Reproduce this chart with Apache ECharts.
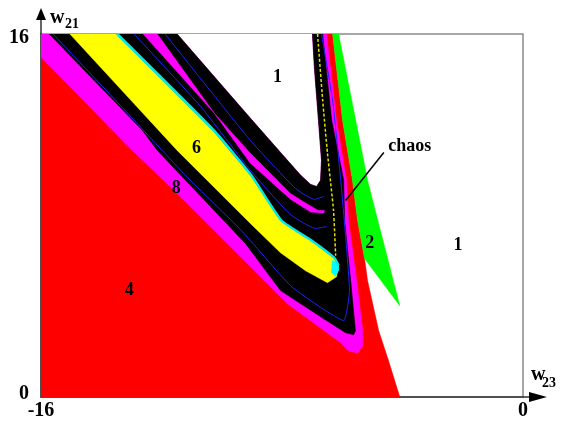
<!DOCTYPE html>
<html>
<head>
<meta charset="utf-8">
<script src="https://cdn.jsdelivr.net/npm/echarts@6/dist/echarts.min.js"></script>
<style>
  html, body { margin: 0; padding: 0; background: #fff; }
  #chart { width: 561px; height: 423px; }
</style>
</head>
<body>
<div id="chart"></div>
<script>
// Parameter plane (w23, w21): regions of periodic behaviour of the map.
const xTicks = [-16, 0];
const yTicks = [0, 16];

// Period-4 region (red), including the thin strip beside the chaotic band
const region4 = [
  [-16, 0], [-16, 16], [-6.32, 16], [-5.99, 12.20], [-5.66, 9.55], [-5.49, 7.78],
  [-5.26, 6.10], [-5.16, 5.13], [-4.79, 2.92], [-4.46, 1.59], [-4.09, 0]
];
// Period-2 wedge (green)
const region2 = [
  [-6.32, 16], [-6.12, 16], [-5.16, 9.55], [-4.82, 7.78], [-4.09, 4.02],
  [-5.26, 6.10], [-5.49, 7.78], [-5.66, 9.55], [-5.99, 12.20]
];
// Fixed-point pocket (white) enclosed by the chaotic band
const region1 = [
  [-11.48, 16], [-9.05, 12.29], [-8.05, 10.78], [-7.38, 9.77], [-7.05, 9.37],
  [-6.85, 9.28], [-6.72, 9.55], [-6.69, 10.43], [-6.79, 12.20], [-6.92, 14.41], [-6.99, 16]
];
// Period-8 band (magenta) wrapping the chaotic zone
const region8 = [
  [-16, 16], [-11.48, 16], [-9.05, 12.29], [-8.05, 10.78], [-7.38, 9.77], [-7.05, 9.37],
  [-6.85, 9.28], [-6.72, 9.55], [-6.69, 10.43], [-6.79, 12.20], [-6.92, 14.41], [-6.99, 16],
  [-6.52, 16], [-6.19, 12.20], [-5.86, 9.55], [-5.79, 7.78], [-5.52, 5.13], [-5.32, 2.92],
  [-5.32, 2.25], [-5.49, 1.94], [-5.79, 2.03], [-6.05, 2.39], [-7.82, 4.11],
  [-11.48, 8.97], [-12.97, 10.87], [-16, 14.98]
];
// Chaotic zone (black)
const chaos = [
  [-15.73, 16], [-11.48, 16], [-9.05, 12.29], [-8.05, 10.78], [-7.38, 9.77], [-7.05, 9.37],
  [-6.85, 9.28], [-6.72, 9.55], [-6.69, 10.43], [-6.79, 12.20], [-6.92, 14.41], [-6.99, 16],
  [-6.65, 16], [-6.35, 12.20], [-5.95, 9.55], [-5.92, 7.78], [-5.72, 5.13], [-5.56, 2.92],
  [-5.62, 2.74], [-5.89, 2.83], [-6.62, 3.45], [-8.05, 4.69], [-9.21, 6.76],
  [-12.14, 10.87], [-12.64, 11.76]
];
// Period-6 finger (yellow)
const region6 = [
  [-15.04, 16], [-13.51, 16], [-10.31, 11.76], [-9.05, 9.77], [-8.05, 7.78], [-7.05, 6.90],
  [-6.29, 6.14], [-6.12, 5.79], [-6.19, 5.30], [-6.49, 5.04], [-7.22, 5.57], [-8.05, 6.36],
  [-9.05, 7.65], [-11.48, 10.87]
];
// Inner period-8 band (magenta) below the white pocket, thinning into a hook
const region8inner = [
  [-12.61, 16], [-9.05, 10.74], [-7.72, 8.97], [-7.22, 8.55], [-6.79, 8.22], [-6.59, 8.22],
  [-6.62, 8.10], [-7.05, 8.15], [-7.72, 8.72], [-9.05, 10.30], [-12.14, 16]
];
// Cyan fringe on the upper side of the period-6 finger, and its tip
const edge6 = [
  [-13.47, 16], [-10.27, 11.76], [-9.02, 9.77], [-8.02, 7.78], [-7.02, 6.90], [-6.27, 6.14], [-6.12, 5.79]
];
const tip6 = [[-6.33, 6.02], [-6.13, 5.88], [-6.11, 5.60], [-6.24, 5.32], [-6.36, 5.50]];
// Thin blue curves inside the chaotic zone
const blueOuter = [
  [-15.60, 16], [-13.37, 12.86], [-11.14, 9.68], [-9.38, 7.38], [-7.72, 4.91], [-6.55, 3.80],
  [-5.95, 3.36], [-5.76, 4.69], [-5.85, 6.45], [-6.05, 9.55], [-6.32, 13.08], [-6.69, 16]
];
const blueMid = [
  [-12.91, 16], [-10.71, 12.82], [-9.05, 9.99], [-7.72, 8.04], [-6.89, 7.43], [-6.52, 7.51]
];
const blueInner = [
  [-11.88, 16], [-9.05, 11.31], [-7.55, 9.19], [-6.92, 8.71], [-6.62, 8.84]
];
// Dashed period-6 trace running up the chaotic column
const yellowTrace = [[-6.82, 16], [-6.65, 13.08], [-6.49, 10.74], [-6.29, 8.22], [-6.22, 6.23]];
// Pointer from the "chaos" caption to the column
const pointer = [[-4.62, 10.78], [-5.89, 8.66]];

// Region captions
const captionText = ['1', '6', '8', '4', '2', '1', 'chaos'];
const captionX = [-8.15, -10.84, -11.51, -13.07, -5.09, -2.16, -3.76];
const captionY = [14.10, 10.96, 9.19, 4.69, 6.76, 6.67, 11.05];

const SERIF = '"Liberation Serif", "Times New Roman", serif';

function polygonSeries(name, pts, color) {
  return {
    name, type: 'custom', clip: true, silent: true,
    data: [0],
    renderItem: (params, api) => ({
      type: 'polygon',
      shape: { points: pts.map(p => api.coord(p)) },
      style: { fill: color, stroke: color, lineWidth: 0.5 }
    })
  };
}
function lineSeries(name, pts, color, width, type) {
  return {
    name, type: 'line', data: pts, showSymbol: false, smooth: 0.15, silent: true,
    clip: true,
    lineStyle: { color, width, type: type || 'solid' }
  };
}

const chart = echarts.init(document.getElementById('chart'), null, { renderer: 'canvas' });
const gridLeft = 41, gridTop = 34, gridRight = 38, gridBottom = 26;
const W = 561, H = 423;
const x0 = gridLeft, yB = H - gridBottom, xR = W - gridRight;

chart.setOption({
  animation: false,
  backgroundColor: '#fff',
  grid: {
    left: gridLeft, top: gridTop, right: gridRight, bottom: gridBottom,
    outerBoundsMode: 'none', containLabel: false,
    show: true, borderColor: '#8a8a8a', borderWidth: 1.5, backgroundColor: 'transparent'
  },
  xAxis: {
    type: 'value', min: xTicks[0], max: xTicks[1], interval: 16,
    axisLine: { show: true, onZero: false, lineStyle: { color: '#333', width: 1.5 } },
    axisTick: { show: false }, splitLine: { show: false },
    axisLabel: { color: '#000', fontFamily: SERIF, fontWeight: 'bold', fontSize: 20, margin: 4 }
  },
  yAxis: {
    type: 'value', min: yTicks[0], max: yTicks[1], interval: 16,
    axisLine: { show: true, onZero: false, lineStyle: { color: '#333', width: 1.5 } },
    axisTick: { show: false }, splitLine: { show: false },
    axisLabel: {
      color: '#000', fontFamily: SERIF, fontWeight: 'bold', fontSize: 20, margin: 12,
      formatter: v => (v === yTicks[1] ? '{top|' + v + '}' : '{bot|' + v + '}'),
      rich: {
        top: { fontFamily: SERIF, fontWeight: 'bold', fontSize: 20, padding: [8, 0, 0, 0] },
        bot: { fontFamily: SERIF, fontWeight: 'bold', fontSize: 20, padding: [0, 0, 6, 0] }
      }
    }
  },
  graphic: [
    // axis arrows
    { type: 'line', shape: { x1: x0, y1: gridTop, x2: x0, y2: 16 }, style: { stroke: '#333', lineWidth: 1.5 } },
    { type: 'polygon', shape: { points: [[x0, 8], [x0 - 5, 20], [x0 + 5, 20]] }, style: { fill: '#000' } },
    { type: 'line', shape: { x1: xR, y1: yB, x2: 533, y2: yB }, style: { stroke: '#333', lineWidth: 1.5 } },
    { type: 'polygon', shape: { points: [[547, yB], [529, yB - 5], [529, yB + 5]] }, style: { fill: '#000' } },
    // axis names
    { type: 'text', x: 50, y: 18, style: { text: 'w', font: 'bold 20px ' + SERIF, fill: '#000', textVerticalAlign: 'middle' } },
    { type: 'text', x: 65, y: 24, style: { text: '21', font: 'bold 14px ' + SERIF, fill: '#000', textVerticalAlign: 'middle' } },
    { type: 'text', x: 531, y: 375, style: { text: 'w', font: 'bold 20px ' + SERIF, fill: '#000', textVerticalAlign: 'middle' } },
    { type: 'text', x: 542, y: 383, style: { text: '23', font: 'bold 14px ' + SERIF, fill: '#000', textVerticalAlign: 'middle' } }
  ],
  series: [
    polygonSeries('period 4', region4, '#ff0000'),
    polygonSeries('period 2', region2, '#00ff00'),
    polygonSeries('period 1', region1, '#ffffff'),
    polygonSeries('period 8', region8, '#ff00ff'),
    polygonSeries('chaos', chaos, '#000000'),
    polygonSeries('period 6', region6, '#ffff00'),
    polygonSeries('period 8 inner', region8inner, '#ff00ff'),
    polygonSeries('period 6 tip', tip6, '#00ffff'),
    lineSeries('period 6 fringe', edge6, '#00e8e8', 2.5),
    lineSeries('blue outer', blueOuter, '#2020ff', 1),
    lineSeries('blue mid', blueMid, '#2020ff', 1),
    lineSeries('blue inner', blueInner, '#2020ff', 1),
    lineSeries('period 6 trace', yellowTrace, '#e0e000', 1.5, [3, 2]),
    { name: 'pointer', type: 'line', data: pointer, showSymbol: false, silent: true,
      lineStyle: { color: '#000', width: 1.5 } },
    {
      name: 'captions', type: 'scatter', silent: true, symbolSize: 0,
      itemStyle: { color: '#000', opacity: 1 },
      data: captionText.map((t, i) => ({ name: t, value: [captionX[i], captionY[i]] })),
      label: {
        show: true, position: 'inside', formatter: p => p.name, opacity: 1,
        color: '#000', textBorderWidth: 0, fontFamily: SERIF, fontWeight: 'bold', fontSize: 18
      }
    }
  ]
});
</script>
</body>
</html>
